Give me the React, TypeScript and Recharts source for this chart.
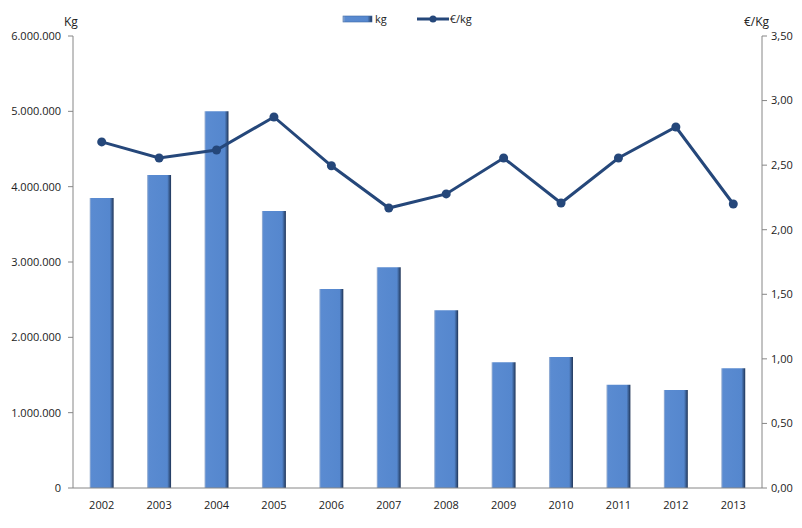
import {
  ComposedChart,
  Bar,
  Line,
  XAxis,
  YAxis,
} from 'recharts'

const years = ['2002', '2003', '2004', '2005', '2006', '2007', '2008', '2009', '2010', '2011', '2012', '2013']
const kg = [3850000, 4155000, 5000000, 3677000, 2640000, 2930000, 2360000, 1670000, 1740000, 1370000, 1300000, 1590000]
const eurPerKg = [2.68, 2.555, 2.617, 2.873, 2.495, 2.168, 2.277, 2.555, 2.207, 2.555, 2.795, 2.199]
const kgTicks = [0, 1000000, 2000000, 3000000, 4000000, 5000000, 6000000]
const priceTicks = [0, 0.5, 1, 1.5, 2, 2.5, 3, 3.5]

const data = years.map((year, i) => ({ year, kg: kg[i], price: eurPerKg[i] }))

const FONT = '"Open Sans", "Liberation Sans", sans-serif'
const LINE = '#25477A'
const AXIS = '#868686'

const fmtKg = (v: number) => (v === 0 ? '0' : v.toLocaleString('de-DE'))
const fmtPrice = (v: number) => v.toFixed(2).replace('.', ',')

function ChartLegend() {
  return (
    <div style={{ position: 'absolute', left: 342, top: 11, display: 'flex', alignItems: 'center', fontSize: 11, color: '#222' }}>
      <svg width={31} height={10}>
        <rect x={1} y={2} width={29} height={6} fill="url(#barGrad)" stroke="#3F6AA6" strokeWidth={0.6} />
      </svg>
      <span style={{ marginLeft: 2, marginRight: 30 }}>kg</span>
      <svg width={32} height={10}>
        <line x1={0} y1={5} x2={32} y2={5} stroke={LINE} strokeWidth={3} />
        <circle cx={16} cy={5} r={3.5} fill={LINE} />
      </svg>
      <span style={{ marginLeft: 1 }}>€/kg</span>
    </div>
  )
}

export default function App() {
  return (
    <div style={{ position: 'absolute', left: 0, top: 0, width: 802, height: 528, background: '#fff', fontFamily: FONT }}>
      <div style={{ position: 'absolute', left: 64, top: 13, fontSize: 12, color: '#222' }}>Kg</div>
      <div style={{ position: 'absolute', left: 744, top: 13, fontSize: 12, color: '#222' }}>€/Kg</div>
      <ComposedChart
        width={802}
        height={528}
        data={data}
        margin={{ top: 36, right: 0, left: 0, bottom: 0 }}
        barCategoryGap="29%"
      >
        <defs>
          <linearGradient id="barGrad" x1="0" y1="0" x2="1" y2="0">
            <stop offset="0%" stopColor="#A8BAD6" />
            <stop offset="7%" stopColor="#5A8BD1" />
            <stop offset="84%" stopColor="#5587CE" />
            <stop offset="92%" stopColor="#3B5F93" />
            <stop offset="100%" stopColor="#1E3356" />
          </linearGradient>
        </defs>
        <XAxis
          dataKey="year"
          height={40}
          tickSize={0}
          tickMargin={13}
          stroke={AXIS}
          tick={{ fontSize: 11, fill: '#222', fontFamily: FONT }}
        />
        <YAxis
          yAxisId="left"
          width={73}
          domain={[0, 6000000]}
          ticks={kgTicks}
          tickFormatter={fmtKg}
          tickSize={5}
          tickMargin={7}
          stroke={AXIS}
          interval={0}
          tick={{ fontSize: 11, fill: '#222', fontFamily: FONT }}
        />
        <YAxis
          yAxisId="right"
          orientation="right"
          width={40}
          domain={[0, 3.5]}
          ticks={priceTicks}
          tickFormatter={fmtPrice}
          tickSize={5}
          tickMargin={4}
          stroke={AXIS}
          interval={0}
          tick={{ fontSize: 11, fill: '#222', fontFamily: FONT }}
        />
        <Bar yAxisId="left" dataKey="kg" fill="url(#barGrad)" isAnimationActive={false} />
        <Line
          yAxisId="right"
          dataKey="price"
          type="linear"
          stroke={LINE}
          strokeWidth={3}
          dot={{ r: 4.5, fill: LINE, stroke: LINE, strokeWidth: 0 }}
          activeDot={false}
          isAnimationActive={false}
        />
      </ComposedChart>
      <ChartLegend />
    </div>
  )
}
